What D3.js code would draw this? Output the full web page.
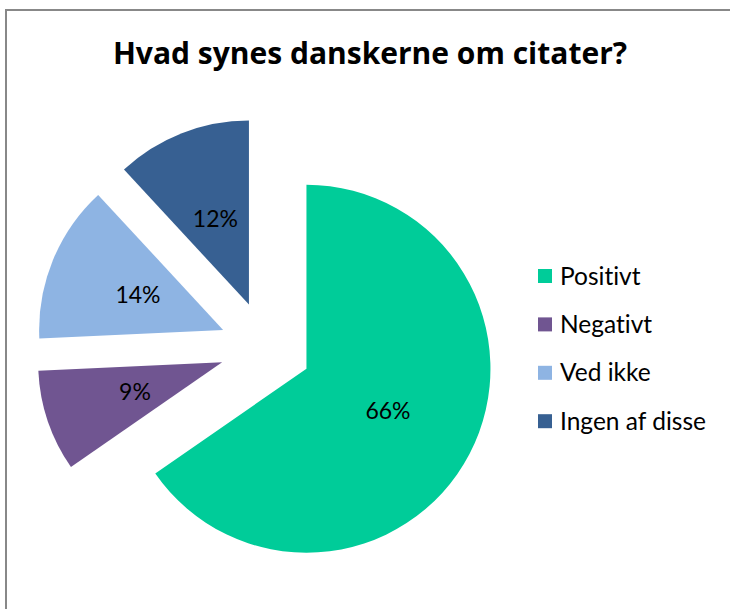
<!DOCTYPE html>
<html>
<head>
<meta charset="utf-8">
<script src="https://cdn.jsdelivr.net/npm/d3@7"></script>
<style>
  body { margin: 0; background: #fff; }
  svg { display: block; font-family: Lato, "Open Sans", sans-serif; font-variant-ligatures: none; }
</style>
</head>
<body>
<svg id="chart" width="730" height="609"></svg>
<script>
// chart data
const title = 'Hvad synes danskerne om citater?';
const categories = ['Positivt', 'Negativt', 'Ved ikke', 'Ingen af disse'];
const values = [66, 9, 14, 12];
const colors = ['#00cc99', '#705591', '#8eb4e3', '#376092'];

const svg = d3.select('#chart');

// frame (only top and left edges are visible in the crop)
svg.append('rect')
  .attr('x', 6).attr('y', 10)
  .attr('width', 760).attr('height', 640)
  .attr('fill', 'none')
  .attr('stroke', '#888')
  .attr('stroke-width', 2);

svg.append('text')
  .attr('x', 370).attr('y', 64)
  .attr('text-anchor', 'middle')
  .attr('font-family', '"Open Sans", Lato, sans-serif')
  .attr('font-weight', 'bold')
  .attr('font-size', 30)
  .attr('fill', '#000')
  .text(title);

let cx = 265.7, cy = 347.4;
let radius = 184;
let explode = 46;

let pie = d3.pie().sort(null).value(d => d.value);
let arcs = pie(categories.map((c, i) => ({ name: c, value: values[i] })));
let arc = d3.arc().innerRadius(0).outerRadius(radius);
let labelArc = d3.arc().innerRadius(radius * 0.5).outerRadius(radius * 0.5);

let g = svg.append('g').attr('transform', 'translate(' + cx + ',' + cy + ')');

let slice = g.selectAll('g.slice')
  .data(arcs)
  .enter().append('g')
  .attr('class', 'slice')
  .attr('transform', d => {
    let a = (d.startAngle + d.endAngle) / 2;
    return 'translate(' + (explode * Math.sin(a)) + ',' + (-explode * Math.cos(a)) + ')';
  });

slice.append('path')
  .attr('d', arc)
  .attr('fill', (d, i) => colors[i]);

slice.append('text')
  .attr('transform', d => 'translate(' + labelArc.centroid(d) + ')')
  .attr('text-anchor', 'middle')
  .attr('dy', '0.35em')
  .attr('font-size', 23)
  .attr('fill', '#000')
  .text(d => d.data.value + '%');

// legend
let legend = svg.append('g').attr('transform', 'translate(538,276)');
let item = legend.selectAll('g')
  .data(categories)
  .enter().append('g')
  .attr('transform', (d, i) => 'translate(0,' + (i * 48.4) + ')');

item.append('rect')
  .attr('x', 0).attr('y', -7)
  .attr('width', 14).attr('height', 14)
  .attr('fill', (d, i) => colors[i]);

item.append('text')
  .attr('x', 22).attr('y', 0)
  .attr('dy', '0.35em')
  .attr('font-size', 24.5)
  .attr('fill', '#000')
  .text(d => d);
</script>
</body>
</html>
